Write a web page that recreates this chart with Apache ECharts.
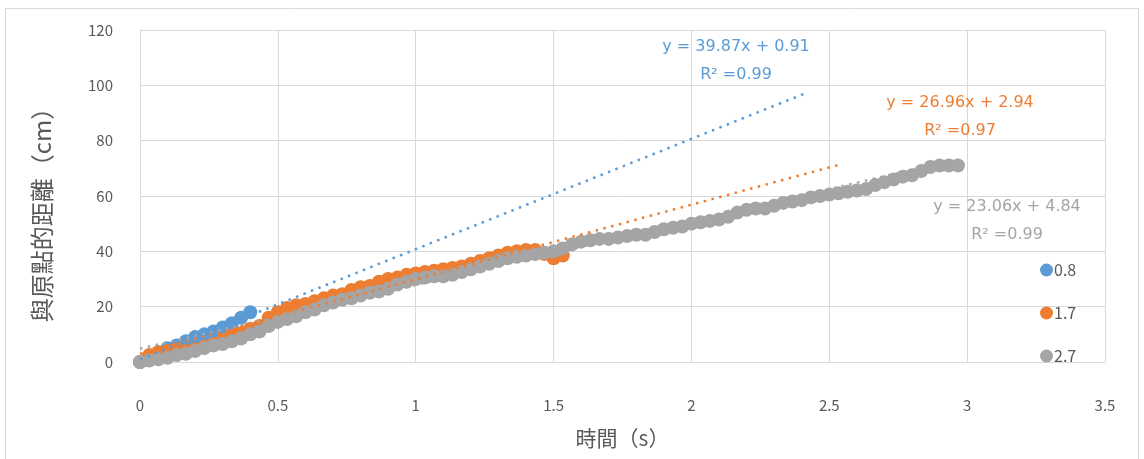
<!DOCTYPE html>
<html>
<head>
<meta charset="utf-8">
<script src="https://cdn.jsdelivr.net/npm/echarts@6/dist/echarts.min.js"></script>
<style>
  html, body { margin: 0; padding: 0; background: #fff; }
  #chart { width: 1144px; height: 459px; }
</style>
</head>
<body>
<div id="chart"></div>
<script>
// Frame interval of the video analysis (30 fps)
const FRAME_DT = 1 / 30;

// Distance from the origin (cm) at each frame, one list per run
const seriesNames = ['0.8', '1.7', '2.7'];
const dist08 = [0, 2, 3.5, 5, 6, 7.5, 9, 10, 11, 12.5, 14, 16, 18];
const dist17 = [0, 2.5, 3.5, 4, 4.5, 4, 4.5, 5.5, 6.5, 8, 9.5, 10.5, 12, 13, 16, 18,
  19.5, 20.5, 21, 22, 23, 24, 24.5, 26, 27, 27.5, 29, 30, 30.5, 31.5, 32, 32.5, 33,
  33.5, 34, 34.5, 35.5, 36.5, 37.5, 38.5, 39.5, 40, 40.5, 40.5, 39, 37.5, 38.5];
const dist27 = [0, 0.5, 1, 1.5, 2.5, 3, 4, 5, 6, 6.5, 7.5, 8.5, 10, 11, 13, 14.5,
  15.5, 16.5, 18, 19, 20.5, 21.5, 22.5, 23, 24, 25, 25.5, 26.5, 28, 29, 30, 30.5,
  31, 31, 31.5, 32.5, 33.5, 34.5, 35.5, 36.5, 37.5, 38, 38.5, 39, 39.5, 40, 41,
  42.5, 43.5, 44, 44.5, 44.5, 45, 45.5, 46, 46, 47, 48, 48.5, 49, 50, 50.5, 51,
  51.5, 52.5, 54, 55, 55.5, 55.5, 56.5, 57.5, 58, 58.5, 59.5, 60, 60.5, 61, 61.5,
  62, 62.5, 64, 65, 66, 67, 67.5, 69, 70.5, 71, 71, 71];

// Linear trendlines: slope, intercept, R², end of the drawn line (s)
const trendSlope = [39.87, 26.96, 23.06];
const trendIntercept = [0.91, 2.94, 4.84];
const trendR2 = ['0.99', '0.97', '0.99'];
const trendEnd = [2.41, 2.53, 2.97];

// Axis ticks and titles
const xTicks = { min: 0, max: 3.5, interval: 0.5 };
const yTicks = { min: 0, max: 120, interval: 20 };
const xTitle = '時間（s）';
const yTitle = '與原點的距離（cm）';

const colors = ['#5B9BD5', '#ED7D31', '#A5A5A5'];
const FONT = '"Noto Sans CJK TC", "Noto Sans", sans-serif';
const EQ_FONT = '"DejaVu Sans", "Noto Sans", sans-serif';

function toPoints(values) {
  return values.map((v, i) => [i * FRAME_DT, v]);
}
const runs = [dist08, dist17, dist27];

const scatterSeries = runs.map((vals, i) => ({
  name: seriesNames[i],
  type: 'scatter',
  data: toPoints(vals),
  symbol: 'circle',
  symbolSize: 14,
  itemStyle: { color: colors[i], opacity: 1 },
  z: 2 + i,
  emphasis: { disabled: true }
}));

const trendSeries = trendSlope.map((m, i) => ({
  name: 'trend-' + seriesNames[i],
  type: 'line',
  data: [[0, trendIntercept[i]], [trendEnd[i], m * trendEnd[i] + trendIntercept[i]]],
  showSymbol: false,
  symbol: 'none',
  lineStyle: { color: colors[i], width: 2.5, type: [2.5, 5.5], cap: 'butt' },
  z: 10,
  silent: true
}));

// Trendline equation labels (positions in px)
const labelPos = [
  { x: 736, y: 47 },
  { x: 960, y: 103 },
  { x: 1007, y: 207 }
];
const eqGraphics = [];
trendSlope.forEach((m, i) => {
  const eq = 'y = ' + m.toFixed(2) + 'x + ' + trendIntercept[i].toFixed(2);
  eqGraphics.push({
    type: 'text', x: labelPos[i].x, y: labelPos[i].y, z: 20,
    style: { text: eq, fill: colors[i], font: '16px ' + EQ_FONT, textAlign: 'center', textVerticalAlign: 'middle' }
  });
  eqGraphics.push({
    type: 'text', x: labelPos[i].x, y: labelPos[i].y + 28, z: 20,
    style: { text: 'R² =' + trendR2[i], fill: colors[i], font: '16px ' + EQ_FONT, textAlign: 'center', textVerticalAlign: 'middle' }
  });
});

const chart = echarts.init(document.getElementById('chart'), null, { renderer: 'canvas' });
chart.setOption({
  animation: false,
  backgroundColor: '#fff',
  grid: { left: 140, right: 39, top: 30, bottom: 97, containLabel: false },
  xAxis: {
    type: 'value',
    min: xTicks.min, max: xTicks.max, interval: xTicks.interval,
    name: xTitle,
    nameLocation: 'middle',
    nameGap: 66,
    nameTextStyle: { color: '#595959', fontSize: 21, fontFamily: FONT },
    axisLine: { show: true, lineStyle: { color: '#D9D9D9', width: 1 } },
    axisTick: { show: false },
    axisLabel: { color: '#595959', fontSize: 15, fontFamily: FONT, margin: 36 },
    splitLine: { show: true, lineStyle: { color: '#D9D9D9', width: 1 } }
  },
  yAxis: {
    type: 'value',
    min: yTicks.min, max: yTicks.max, interval: yTicks.interval,
    axisLine: { show: true, lineStyle: { color: '#D9D9D9', width: 1 } },
    axisTick: { show: false },
    axisLabel: { color: '#595959', fontSize: 15, fontFamily: FONT, margin: 27 },
    splitLine: { show: true, lineStyle: { color: '#D9D9D9', width: 1 } }
  },
  legend: {
    data: seriesNames,
    orient: 'vertical',
    left: 1035,
    top: 257,
    icon: 'circle',
    itemWidth: 13,
    itemHeight: 13,
    itemGap: 27,
    textStyle: { color: '#595959', fontSize: 16, fontFamily: FONT, padding: [0, 0, 0, -4] },
    selectedMode: false
  },
  graphic: [
    {
      type: 'rect', z: -1,
      shape: { x: 5.5, y: 8.5, width: 1133, height: 452 },
      style: { fill: 'none', stroke: '#D9D9D9', lineWidth: 1 }
    },
    {
      // vertical axis title
      type: 'text', x: 42, y: 209, rotation: Math.PI / 2, z: 20,
      style: { text: yTitle, fill: '#595959', font: '24px ' + FONT, textAlign: 'center', textVerticalAlign: 'middle' }
    }
  ].concat(eqGraphics),
  series: scatterSeries.concat(trendSeries)
});
</script>
</body>
</html>
